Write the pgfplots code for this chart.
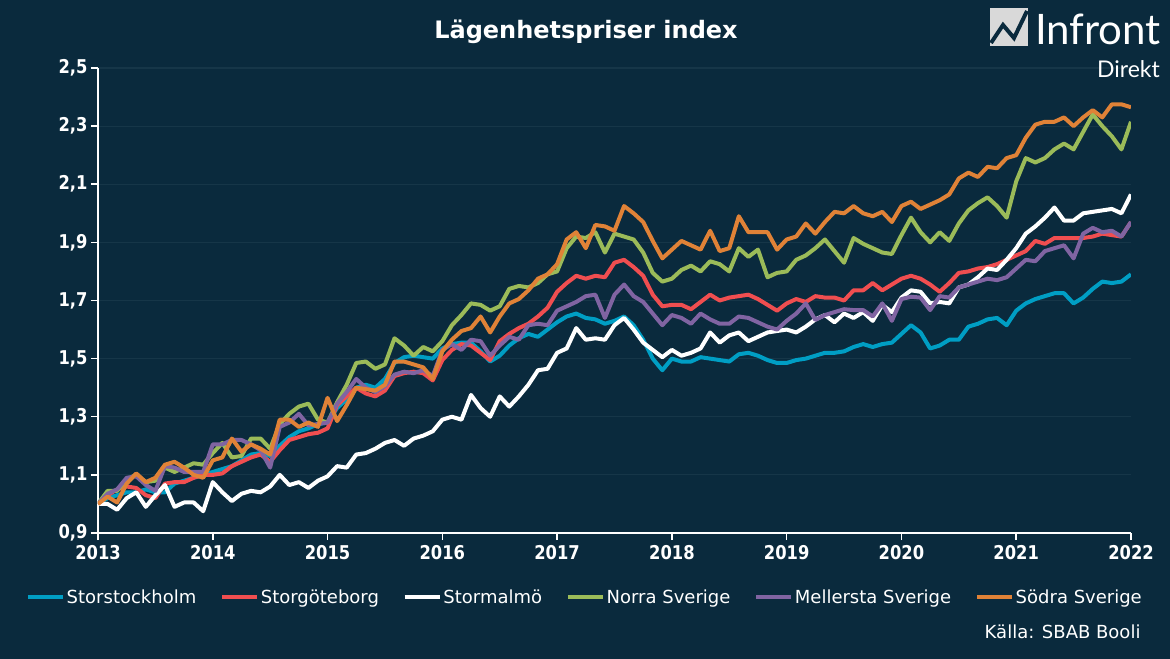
\documentclass[border=0pt]{standalone}
\usepackage{fontspec}
\setmainfont{DejaVu Sans}[FakeStretch=0.86]
\newfontfamily\plainfont{DejaVu Sans}
\newfontfamily\logofont{Lato}
\usepackage{pgfplots}
\pgfplotsset{compat=1.18}
\usepackage{pgfplotstable}
\usetikzlibrary{calc}
\pgfdeclarelayer{background}
\pgfsetlayers{background,main}

\definecolor{bgc}{RGB}{10,42,61}
\definecolor{gridc}{RGB}{22,54,72}
\definecolor{sth}{RGB}{0,158,196}
\definecolor{gbg}{RGB}{240,78,80}
\definecolor{norr}{RGB}{155,187,89}
\definecolor{mell}{RGB}{128,100,162}
\definecolor{sod}{RGB}{224,130,55}

% m = manad sedan jan 2013
\pgfplotstableread{
m sth gbg mmo norr mell sod
0 1.00 1.00 1.00 1.00 1.00 1.00
1 1.02 1.03 1.00 1.045 1.035 1.025
2 1.03 1.05 0.98 1.045 1.05 1.005
3 1.04 1.06 1.02 1.085 1.09 1.07
4 1.04 1.055 1.04 1.10 1.095 1.105
5 1.05 1.03 0.99 1.075 1.065 1.075
6 1.04 1.02 1.03 1.08 1.045 1.09
7 1.04 1.07 1.065 1.125 1.13 1.135
8 1.07 1.075 0.99 1.11 1.125 1.145
9 1.08 1.075 1.005 1.125 1.11 1.125
10 1.09 1.09 1.005 1.14 1.11 1.10
11 1.10 1.10 0.975 1.135 1.11 1.09
12 1.11 1.10 1.075 1.175 1.205 1.15
13 1.12 1.105 1.04 1.21 1.205 1.16
14 1.13 1.13 1.01 1.16 1.22 1.225
15 1.15 1.145 1.035 1.165 1.22 1.18
16 1.17 1.16 1.045 1.225 1.205 1.205
17 1.175 1.17 1.04 1.225 1.185 1.19
18 1.165 1.145 1.06 1.19 1.125 1.17
19 1.20 1.185 1.10 1.275 1.265 1.29
20 1.23 1.22 1.065 1.31 1.28 1.29
21 1.25 1.23 1.075 1.335 1.31 1.265
22 1.26 1.24 1.055 1.345 1.27 1.28
23 1.275 1.245 1.08 1.29 1.275 1.265
24 1.28 1.26 1.095 1.28 1.28 1.365
25 1.33 1.34 1.13 1.35 1.345 1.285
26 1.36 1.37 1.125 1.41 1.385 1.34
27 1.40 1.40 1.17 1.485 1.43 1.40
28 1.41 1.38 1.175 1.49 1.40 1.395
29 1.40 1.37 1.19 1.465 1.385 1.39
30 1.43 1.39 1.21 1.48 1.405 1.41
31 1.485 1.44 1.22 1.57 1.445 1.49
32 1.505 1.45 1.20 1.545 1.455 1.49
33 1.51 1.455 1.225 1.51 1.45 1.48
34 1.505 1.45 1.235 1.54 1.46 1.47
35 1.50 1.425 1.25 1.525 1.44 1.43
36 1.535 1.495 1.29 1.56 1.53 1.525
37 1.55 1.53 1.30 1.615 1.55 1.565
38 1.555 1.55 1.29 1.65 1.53 1.595
39 1.555 1.545 1.375 1.69 1.565 1.605
40 1.525 1.52 1.33 1.685 1.56 1.645
41 1.49 1.495 1.30 1.665 1.51 1.59
42 1.51 1.56 1.37 1.68 1.545 1.645
43 1.545 1.585 1.335 1.74 1.575 1.69
44 1.57 1.605 1.37 1.75 1.565 1.705
45 1.585 1.62 1.41 1.745 1.615 1.735
46 1.575 1.645 1.46 1.76 1.62 1.775
47 1.60 1.675 1.465 1.79 1.615 1.79
48 1.625 1.73 1.52 1.80 1.665 1.825
49 1.645 1.76 1.535 1.88 1.68 1.91
50 1.655 1.785 1.605 1.92 1.695 1.935
51 1.64 1.775 1.565 1.915 1.715 1.88
52 1.635 1.785 1.57 1.935 1.72 1.96
53 1.62 1.78 1.565 1.865 1.64 1.955
54 1.63 1.83 1.615 1.93 1.72 1.94
55 1.645 1.84 1.64 1.92 1.755 2.025
56 1.615 1.815 1.60 1.91 1.715 2.00
57 1.565 1.785 1.555 1.865 1.695 1.97
58 1.50 1.72 1.53 1.795 1.655 1.905
59 1.46 1.68 1.505 1.765 1.615 1.845
60 1.50 1.685 1.53 1.775 1.65 1.875
61 1.49 1.685 1.51 1.805 1.64 1.905
62 1.49 1.67 1.52 1.82 1.62 1.89
63 1.505 1.695 1.535 1.80 1.655 1.875
64 1.50 1.72 1.59 1.835 1.635 1.94
65 1.495 1.70 1.555 1.825 1.62 1.87
66 1.49 1.71 1.58 1.80 1.62 1.88
67 1.515 1.715 1.59 1.88 1.645 1.99
68 1.52 1.72 1.56 1.85 1.64 1.935
69 1.51 1.705 1.575 1.875 1.625 1.935
70 1.495 1.685 1.59 1.78 1.61 1.935
71 1.485 1.665 1.595 1.795 1.60 1.875
72 1.485 1.69 1.60 1.80 1.63 1.91
73 1.495 1.705 1.59 1.84 1.655 1.92
74 1.50 1.695 1.61 1.855 1.69 1.965
75 1.51 1.715 1.635 1.88 1.633 1.93
76 1.52 1.71 1.65 1.91 1.65 1.97
77 1.52 1.71 1.625 1.87 1.66 2.005
78 1.525 1.70 1.655 1.83 1.67 2.00
79 1.54 1.735 1.64 1.915 1.667 2.025
80 1.55 1.735 1.66 1.895 1.667 2.00
81 1.54 1.76 1.63 1.88 1.645 1.99
82 1.55 1.735 1.685 1.865 1.69 2.005
83 1.555 1.755 1.66 1.86 1.63 1.97
84 1.585 1.775 1.71 1.925 1.705 2.025
85 1.615 1.785 1.735 1.985 1.713 2.04
86 1.59 1.775 1.73 1.935 1.71 2.015
87 1.535 1.755 1.69 1.90 1.667 2.03
88 1.545 1.73 1.695 1.935 1.715 2.045
89 1.565 1.76 1.69 1.905 1.71 2.065
90 1.565 1.795 1.745 1.965 1.745 2.12
91 1.61 1.80 1.755 2.01 1.755 2.14
92 1.62 1.81 1.78 2.035 1.765 2.125
93 1.635 1.815 1.81 2.055 1.775 2.16
94 1.64 1.825 1.805 2.025 1.77 2.155
95 1.615 1.84 1.84 1.985 1.78 2.19
96 1.665 1.855 1.88 2.11 1.81 2.20
97 1.69 1.87 1.93 2.19 1.84 2.26
98 1.705 1.905 1.955 2.175 1.835 2.305
99 1.715 1.895 1.985 2.19 1.87 2.315
100 1.725 1.915 2.02 2.22 1.88 2.315
101 1.725 1.915 1.975 2.24 1.89 2.33
102 1.69 1.915 1.975 2.22 1.845 2.30
103 1.71 1.915 2.00 2.28 1.93 2.33
104 1.74 1.92 2.005 2.34 1.95 2.355
105 1.765 1.93 2.01 2.30 1.935 2.33
106 1.76 1.925 2.015 2.265 1.94 2.375
107 1.765 1.92 2.00 2.22 1.92 2.375
108 1.79 1.97 2.065 2.315 1.97 2.365
}\prices

\begin{document}
\begin{tikzpicture}
\begin{axis}[
    name=ax, at={(0,0)}, anchor=south west,
    scale only axis, width=1033bp, height=465bp,
    xmin=0, xmax=108, ymin=0.9, ymax=2.5,
    axis x line*=bottom, axis y line*=left,
    axis line style={white, line width=1.8bp},
    tick align=outside, major tick length=7bp,
    tick style={white, line width=1.5bp},
    xtick={0,12,...,108},
    xticklabels={2013,2014,2015,2016,2017,2018,2019,2020,2021,2022},
    ytick={0.9,1.1,1.3,1.5,1.7,1.9,2.1,2.3,2.5},
    yticklabel style={/pgf/number format/.cd, fixed, fixed zerofill, precision=1, use comma, assume math mode=true},
    ticklabel style={text=white, font=\fontsize{19bp}{22bp}\selectfont\bfseries},
    xticklabel style={yshift=-2bp},
    ymajorgrids, major grid style={gridc, line width=1.2bp},
    every axis plot/.append style={line width=4bp, line join=round, mark=none},
    legend columns=6,
    legend style={at={(0.471,-0.138)}, anchor=center, draw=none, fill=none,
        text=white, font=\plainfont\fontsize{18bp}{20bp}\selectfont,
        nodes={inner xsep=1.5bp},
        /tikz/every odd column/.append style={column sep=0bp},
        /tikz/every even column/.append style={column sep=22bp}},
    legend image code/.code={\draw[#1, line width=4.5bp] (0bp,0bp) -- (35bp,0bp);},
]
\addplot[sth] table[x=m, y=sth] {\prices};
\addplot[gbg] table[x=m, y=gbg] {\prices};
\addplot[white] table[x=m, y=mmo] {\prices};
\addplot[norr] table[x=m, y=norr] {\prices};
\addplot[mell] table[x=m, y=mell] {\prices};
\addplot[sod] table[x=m, y=sod] {\prices};
\legend{Storstockholm, Storgöteborg, Stormalmö, Norra Sverige, Mellersta Sverige, Södra Sverige}
\end{axis}

\node[white, font=\plainfont\fontsize{24bp}{28bp}\selectfont\bfseries] at ($(ax.south west)+(488bp,501bp)$) {Lägenhetspriser index};
\node[white, anchor=east, font=\plainfont\fontsize{18bp}{21bp}\selectfont] at ($(ax.south west)+(1046bp,-99bp)$) {Källa: SBAB Booli};

% logo
\fill[gray!30] ($(ax.south west)+(892bp,487bp)$) rectangle ($(ax.south west)+(930bp,525bp)$);
\draw[bgc, line width=4bp, line join=miter] ($(ax.south west)+(893bp,490bp)$) -- ($(ax.south west)+(905bp,508bp)$) -- ($(ax.south west)+(916bp,495bp)$) -- ($(ax.south west)+(929bp,522bp)$);
\node[white, anchor=base west, inner sep=0pt, font=\logofont\fontsize{42bp}{46bp}\selectfont] at ($(ax.south west)+(937bp,488bp)$) {Infront};
\node[white, anchor=base east, inner sep=0pt, font=\logofont\fontsize{23bp}{26bp}\selectfont] at ($(ax.south west)+(1062bp,455bp)$) {Direkt};

\begin{pgfonlayer}{background}
\fill[bgc] ($(ax.south west)+(-98bp,-126bp)$) rectangle ($(ax.south west)+(1072bp,533bp)$);
\end{pgfonlayer}
\pgfresetboundingbox
\path[use as bounding box] ($(ax.south west)+(-98bp,-126bp)$) rectangle ($(ax.south west)+(1072bp,533bp)$);
\end{tikzpicture}
\end{document}
